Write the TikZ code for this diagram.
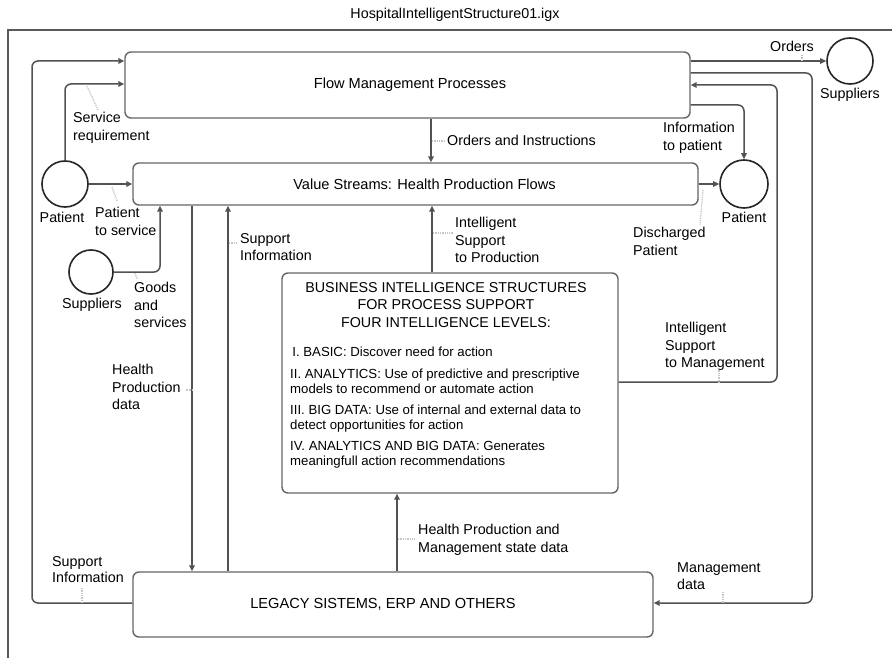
\documentclass[tikz,border=0pt]{standalone}
\usepackage{fontspec}
\setmainfont{Liberation Sans}
\usetikzlibrary{arrows.meta}
\begin{document}
\begin{tikzpicture}[x=1pt,y=-1pt,
    font=\fontsize{14.3}{17.5}\selectfont,
    box/.style={draw=black!60,line width=1.4pt,rounded corners=6pt,font=\fontsize{14.6}{17.5}\selectfont},
    actor/.style={circle,draw=black!85,line width=1.6pt},
    link/.style={draw=black!68,line width=1.5pt,rounded corners=6pt,-{Triangle[length=6pt,width=5.5pt]}},
    lbl/.style={align=left,anchor=north west},
    lead/.style={draw=black!22,densely dotted,line width=1.3pt}]
    \tikzstyle{every node}+=[inner sep=0pt]
    \useasboundingbox (0,0) rectangle (892,658);
    \fill [white] (0,0) rectangle (892,658);
    \draw [black!65,line width=2pt] (892,30) -- (8,30) -- (8,658);
    \node (title) at (455,15) {HospitalIntelligentStructure01.igx};
    \node [box,minimum width=565,minimum height=66] (flow) at (407.5,85) {\hspace*{5pt}Flow Management Processes};
    \node [box,minimum width=565,minimum height=42] (value) at (415.5,184) {\hspace*{18pt}Value Streams: Health Production Flows};
    \node [box,minimum width=336,minimum height=220] (bi) at (450,383) {};
    \node [box,minimum width=520,minimum height=65] (legacy) at (393,604.5) {LEGACY SISTEMS, ERP AND OTHERS\hspace*{20pt}};
    \node [align=center,anchor=north] (bihead) at (446,282) {BUSINESS INTELLIGENCE STRUCTURES\\FOR PROCESS SUPPORT\\FOUR INTELLIGENCE LEVELS:};
    \node [lbl,font=\fontsize{13.2}{15}\selectfont] (bilist) at (290,347) {\,I. BASIC: Discover need for action\\[6.3pt]
        II. ANALYTICS: Use of predictive and prescriptive\\models to recommend or automate action\\[6.3pt]
        III. BIG DATA: Use of internal and external data to\\detect opportunities for action\\[6.3pt]
        IV. ANALYTICS AND BIG DATA: Generates\\meaningfull action recommendations};
    \node [actor,minimum size=46] (patL) at (65,184) {};
    \node [actor,minimum size=44] (supL) at (91,272) {};
    \node [actor,minimum size=48] (patR) at (744,184) {};
    \node [actor,minimum size=46] (supR) at (850,61) {};
    \node (patLlbl) at (62,217) {Patient};
    \node (supLlbl) at (92,305) {Suppliers};
    \node (patRlbl) at (744,217) {Patient};
    \node (supRlbl) at (850,95) {Suppliers};
    \draw [link] (patL.north) |- (flow.west |- 0,84);
    \draw [link] (legacy.west |- 0,603) -| (32,61) -- (flow.west |- 0,61);
    \draw [link] (patL.east) -- (value.west);
    \draw [link] (supL.east) -| (value.south -| 160,0);
    \draw [link] (value.south -| 192,0) -- (legacy.north -| 192,0);
    \draw [link] (legacy.north -| 228,0) -- (value.south -| 228,0);
    \draw [link] (flow.south -| 431,0) -- (value.north -| 431,0);
    \draw [link] (bi.north -| 432,0) -- (value.south -| 432,0);
    \draw [link] (legacy.north -| 397,0) -- (bi.south -| 397,0);
    \draw [link] (bi.east |- 0,382) -| (777,85) -- (flow.east);
    \draw [link] (flow.east |- 0,105) -| (patR.north);
    \draw [link] (value.east) -- (patR.west);
    \draw [link] (flow.east |- supR.west) -- (supR.west);
    \draw [link] (flow.east |- 0,73) -| (812,603) -- (legacy.east |- 0,603);
    \node [lbl] (srvlbl) at (73,112) {Service\\requirement};
    \node [lbl] (pslbl) at (95,207) {Patient\\to service};
    \node [lbl] (goodslbl) at (134,282) {Goods\\and\\services};
    \node [lbl] (hpdlbl) at (112,364) {Health\\Production\\data};
    \node [lbl] (sinfolbl) at (240,233) {Support\\Information};
    \node [lbl] (oilbl) at (447,135) {Orders and Instructions};
    \node [lbl] (isplbl) at (455,217) {Intelligent\\Support\\to Production};
    \node [lbl] (iplbl) at (663,122) {Information\\to patient};
    \node (ordlbl) at (792,46) {Orders};
    \node [lbl] (dplbl) at (633,227) {Discharged\\Patient};
    \node [lbl] (ismlbl) at (665,322) {Intelligent\\Support\\to Management};
    \node [lbl] (hpmlbl) at (418,524) {Health Production and\\Management state data};
    \node [lbl,font=\fontsize{14.3}{16}\selectfont] (sinfo2lbl) at (52,556) {Support\\Information};
    \node [lbl] (mdlbl) at (677,562) {Management\\data};
    \draw [lead] (87,86) -- (98,110);
    \draw [lead] (112,187) -- (117,201);
    \draw [lead] (135,273) -- (137,279);
    \draw [lead] (193,390) -- (186,390);
    \draw [lead] (229,243) -- (238,243);
    \draw [lead] (432,141) -- (445,141);
    \draw [lead] (433,233) -- (453,233);
    \draw [lead] (703,190) -- (700,225);
    \draw [lead] (719,368) -- (719,382);
    \draw [lead] (398,539) -- (415,539);
    \draw [lead] (82,588) -- (82,603);
    \draw [lead] (723,592) -- (723,603);
    \draw [lead] (802,55) -- (802,61);
\end{tikzpicture}
\end{document}
